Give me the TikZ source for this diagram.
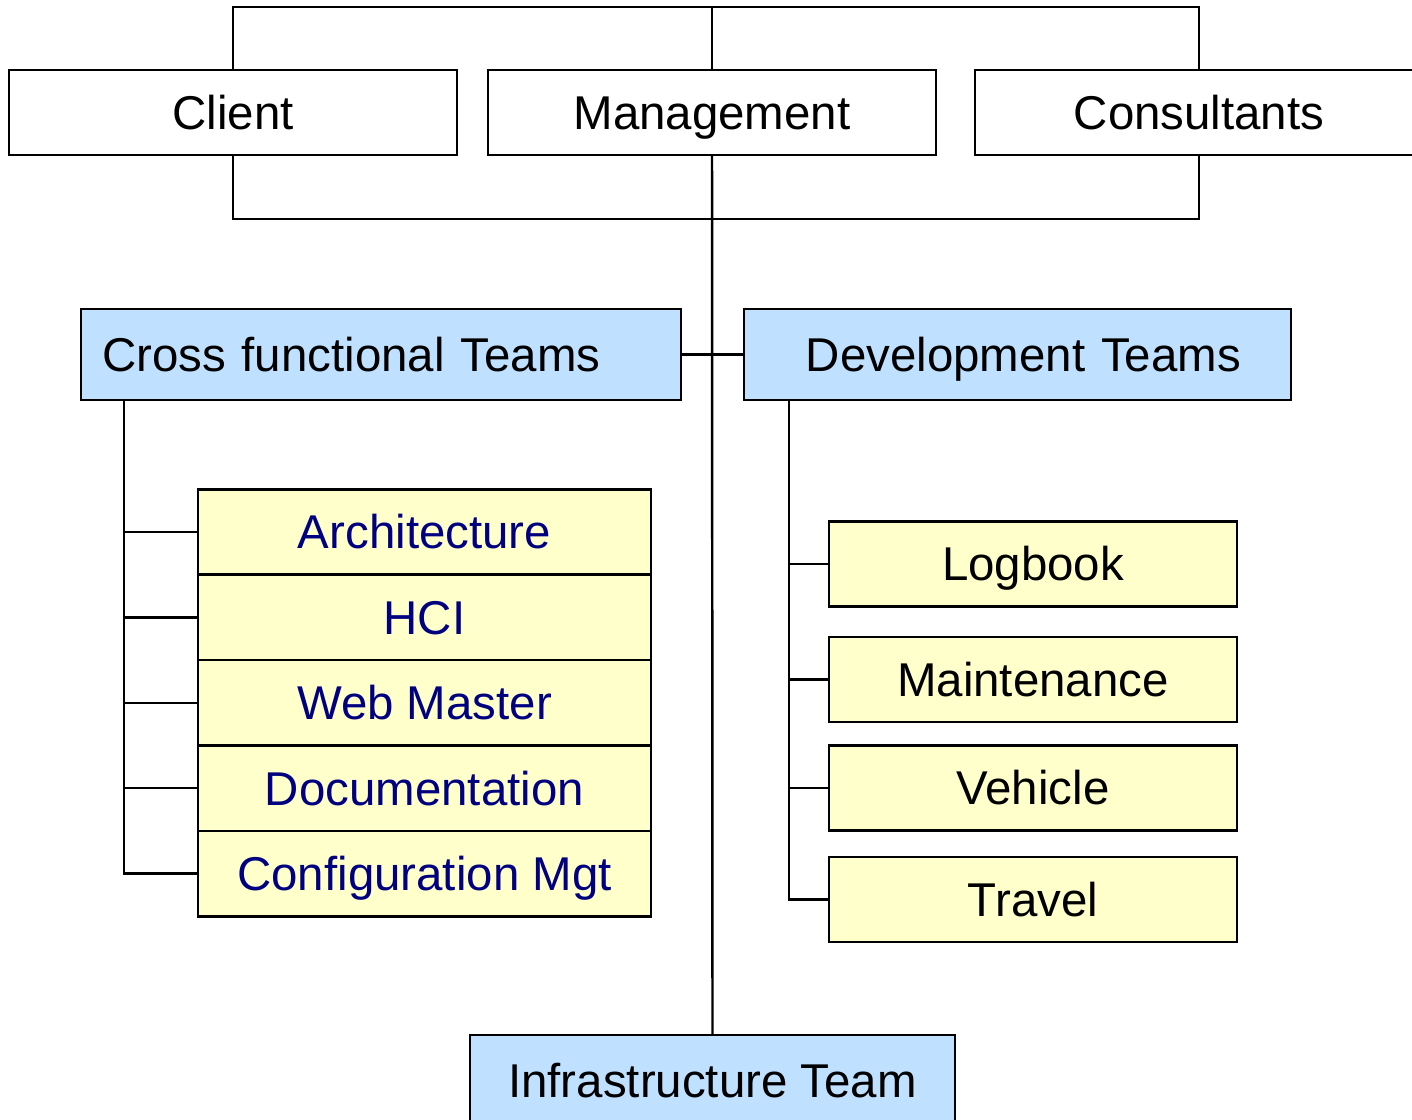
\documentclass[tikz,border=0pt]{standalone}
\usepackage{fontspec}
\setmainfont{Liberation Sans}
\usetikzlibrary{positioning}
\definecolor{teamblue}{RGB}{192,224,255}
\definecolor{subyellow}{RGB}{255,255,204}
\definecolor{subnavy}{RGB}{0,0,128}
\def\px{0.02cm}
\tikzset{
	box/.style={draw,line width=1.4pt,inner sep=0pt,minimum height=85*\px,
		text height=19.3pt,text depth=0pt,font=\fontsize{27}{32}\selectfont},
	topbox/.style={box,minimum width=448*\px},
	teambox/.style={box,fill=teamblue,minimum height=91*\px},
	crossbox/.style={box,fill=subyellow,text=subnavy,minimum width=453*\px,minimum height=85.4*\px},
	devbox/.style={box,fill=subyellow,minimum width=408*\px},
	link/.style={line width=1.4pt}
}

\begin{document}
\begin{tikzpicture}[x=\px,y=-\px]
	\useasboundingbox (0,0) rectangle (1412,1119);
	
	% TOP ROW
	\node[topbox] (client) at (233,112.5) {Client};
	\node[topbox] (mgmt) at (712,112.5) {Management};
	\node[topbox] (consult) at (1199,112.5) {Consultants};
	\coordinate (T) at (712,7);
	\coordinate (B) at (712,219);
	\draw[link] (client.north) |- (T) -| (consult.north);
	\draw[link] (mgmt.north) -- (T);
	\draw[link] (client.south) |- (B) -| (consult.south);
	
	% TEAMS
	\node[teambox,minimum width=600*\px,text width=558*\px,inner xsep=21*\px,align=left]
	(cross) at (381,354.5) {Cross functional Teams};
	\node[teambox,minimum width=547*\px,text width=447*\px,inner xsep=50*\px,align=right]
	(dev) at (1017.5,354.5) {Development Teams};
	\node[teambox,minimum width=485*\px] (infra) at (712.5,1080.5) {Infrastructure Team};
	\draw[link] (mgmt.south) -- (infra.north);
	\draw[link] (cross.east) -- (dev.west);
	
	% CROSS FUNCTIONAL
	\coordinate (crossroot) at ([xshift=44*\px]cross.south west);
	\foreach \n/\t [count=\i] in {arch/Architecture,hci/HCI,web/Web Master,
		doc/Documentation,cfg/Configuration Mgt}{
		\node[crossbox] (\n) at (424.5,{532+(\i-1)*85.4}) {\t};
		\draw[link] (crossroot) |- (\n.west);
	}
	
	% DEVELOPMENT
	\coordinate (devroot) at ([xshift=46*\px]dev.south west);
	\foreach \n/\t/\y in {log/Logbook/564,maint/Maintenance/679.5,
		veh/Vehicle/788,trav/Travel/899.5}{
		\node[devbox] (\n) at (1033,\y) {\t};
		\draw[link] (devroot) |- (\n.west);
	}
\end{tikzpicture}
\end{document}
